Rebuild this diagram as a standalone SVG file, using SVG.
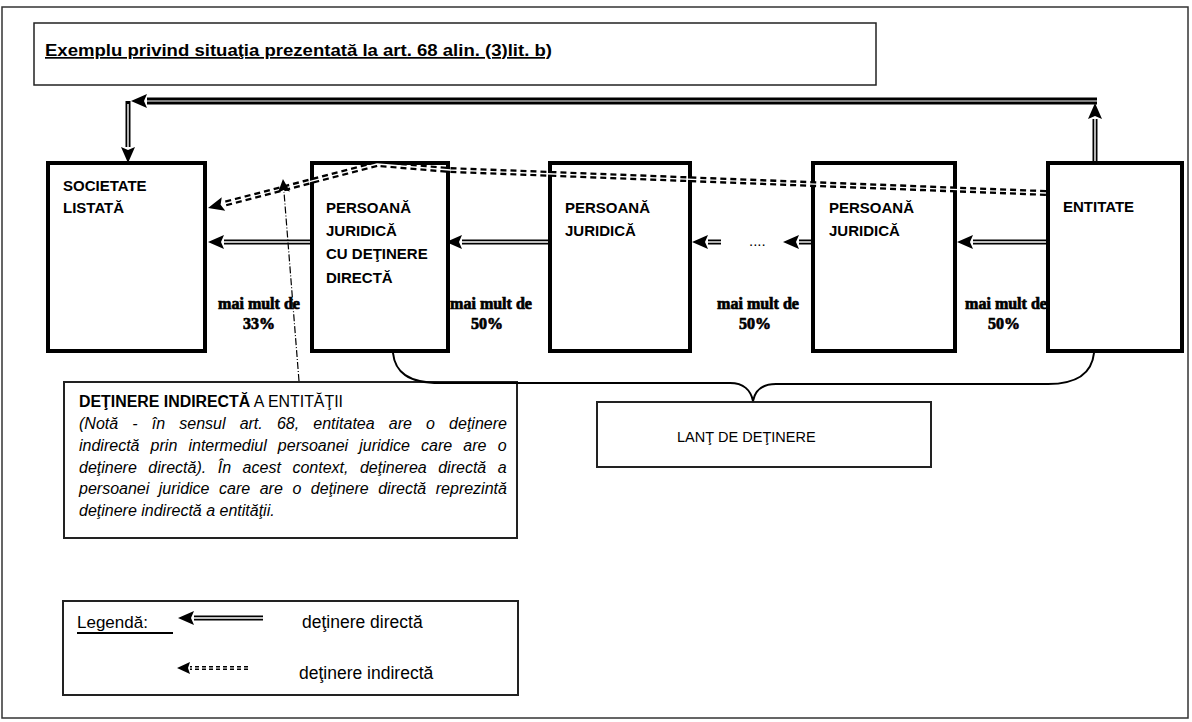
<svg xmlns="http://www.w3.org/2000/svg" width="1192" height="722" viewBox="0 0 1192 722">
<style>
.sans{font-family:"Liberation Sans",Arial,sans-serif;fill:#000}
.box{fill:#fff;stroke:#000;stroke-width:4}
.thin{fill:#fff;stroke:#222;stroke-width:1.5}
.lbl{font-family:"Liberation Serif","Times New Roman",serif;font-weight:bold;font-size:16px;fill:#000;stroke:#000;stroke-width:0.7;text-anchor:middle}
.nl{font-family:"Liberation Sans",Arial,sans-serif;font-weight:bold;font-size:15px;fill:#000}
.dbl{fill:none;stroke:#000;stroke-width:5}
.dblw{fill:none;stroke:#fff;stroke-width:1.4}
.dash{fill:none;stroke:#000;stroke-width:6;stroke-dasharray:6 4}
.dashw{fill:none;stroke:#fff;stroke-width:1.3}
.note{font-family:"Liberation Sans",Arial,sans-serif;font-size:16px;font-style:italic;fill:#000}
</style>
<defs>
<marker id="ah" markerUnits="userSpaceOnUse" markerWidth="18" markerHeight="16" refX="0" refY="7" orient="auto" overflow="visible">
<path d="M0,0 L16,7 L0,14 L3,7 z" fill="#000"/>
</marker>
<marker id="ahs" markerUnits="userSpaceOnUse" markerWidth="14" markerHeight="14" refX="0" refY="6" orient="auto" overflow="visible">
<path d="M0,0 L13,6 L0,12 L2,6 z" fill="#000"/>
</marker>
</defs>
<rect x="0" y="0" width="1192" height="722" fill="#fff"/>
<rect x="2" y="7" width="1186" height="711" fill="none" stroke="#333" stroke-width="1.5"/>

<g id="title">
<rect x="34" y="23" width="842" height="62" class="thin"/>
<text x="45" y="56" class="sans" font-size="17" font-weight="bold" text-decoration="underline" textLength="507" lengthAdjust="spacingAndGlyphs">Exemplu privind situaţia prezentată la art. 68 alin. (3)lit. b)</text>
</g>

<g id="labels">
<text class="lbl" x="259" y="309">mai mult de</text>
<text class="lbl" x="259" y="329">33%</text>
<text class="lbl" x="491" y="309">mai mult de</text>
<text class="lbl" x="487" y="329">50%</text>
<text class="lbl" x="758" y="309">mai mult de</text>
<text class="lbl" x="755" y="329">50%</text>
<text class="lbl" x="1006" y="309">mai mult de</text>
<text class="lbl" x="1004" y="329">50%</text>
</g>

<g id="societate-listata">
<rect x="48" y="163" width="157" height="188" class="box"/>
<text class="nl" x="63" y="191">SOCIETATE</text>
<text class="nl" x="63" y="213">LISTATĂ</text>
</g>
<g id="pj-detinere-directa">
<rect x="312" y="163" width="136" height="188" class="box"/>
<text class="nl" x="326" y="213">PERSOANĂ</text>
<text class="nl" x="326" y="236">JURIDICĂ</text>
<text class="nl" x="326" y="259">CU DEŢINERE</text>
<text class="nl" x="326" y="283">DIRECTĂ</text>
</g>
<g id="pj-2">
<rect x="550" y="163" width="140" height="188" class="box"/>
<text class="nl" x="565" y="213">PERSOANĂ</text>
<text class="nl" x="565" y="236">JURIDICĂ</text>
</g>
<g id="pj-3">
<rect x="813" y="163" width="142" height="188" class="box"/>
<text class="nl" x="829" y="213">PERSOANĂ</text>
<text class="nl" x="829" y="236">JURIDICĂ</text>
</g>
<g id="entitate">
<rect x="1048" y="163" width="134" height="188" class="box"/>
<text class="nl" x="1063" y="212">ENTITATE</text>
</g>

<g id="nota">
<rect x="64" y="382" width="453" height="156" fill="#fff" stroke="#222" stroke-width="2"/>
<text class="sans" x="79" y="407" font-size="16" textLength="264" lengthAdjust="spacingAndGlyphs"><tspan font-weight="bold">DEŢINERE INDIRECTĂ</tspan> A ENTITĂŢII</text>
<text class="note" x="79" y="429" word-spacing="9.7">(Notă - în sensul art. 68, entitatea are o deţinere</text>
<text class="note" x="79" y="451" word-spacing="6.7">indirectă prin intermediul persoanei juridice care are o</text>
<text class="note" x="79" y="473" word-spacing="7.1">deţinere directă). În acest context, deţinerea directă a</text>
<text class="note" x="79" y="494" word-spacing="5.1">persoanei juridice care are o deţinere directă reprezintă</text>
<text class="note" x="79" y="516">deţinere indirectă a entităţii.</text>
</g>

<g id="lant">
<rect x="597" y="402" width="334" height="65" fill="#fff" stroke="#222" stroke-width="2"/>
<text class="sans" x="677" y="442" font-size="14.5">LANŢ DE DEŢINERE</text>
</g>

<g id="connectors">
<path d="M1095,161 L1095,119" class="dbl" marker-end="url(#ah)"/>
<path d="M1095,161 L1095,119" class="dblw"/>
<path d="M1097,101 L147,101" fill="none" stroke="#000" stroke-width="7" marker-end="url(#ah)"/>
<path d="M1097,101 L147,101" fill="none" stroke="#fff" stroke-width="1"/>
<path d="M128,101 L128,147" class="dbl" marker-end="url(#ah)"/>
<path d="M128,104 L128,147" class="dblw"/>

<path d="M310,242 L224,242" class="dbl" marker-end="url(#ah)"/>
<path d="M310,242 L224,242" class="dblw"/>
<path d="M548,242 L462,242" class="dbl" marker-end="url(#ah)"/>
<path d="M548,242 L462,242" class="dblw"/>
<path d="M721,242 L708,242" class="dbl" marker-end="url(#ah)"/>
<path d="M721,242 L708,242" class="dblw"/>
<path d="M811,242 L799,242" class="dbl" marker-end="url(#ah)"/>
<path d="M811,242 L799,242" class="dblw"/>
<path d="M1046,242 L973,242" class="dbl" marker-end="url(#ah)"/>
<path d="M1046,242 L973,242" class="dblw"/>
<text class="sans" x="749" y="246" font-size="15">....</text>

<path d="M1046,193 L450,170 L377,164 L223.5,204" class="dash" marker-end="url(#ah)"/>
<path d="M1046,193 L450,170 L377,164 L223.5,204" class="dashw"/>

<path d="M299,381 L284,192" fill="none" stroke="#000" stroke-width="1.2" stroke-dasharray="7 2 1 2" marker-end="url(#ahs)"/>

<path d="M393,353 C395,372 408,383 440,383 L730,383 C744,383 751,391 753,401 C755,391 762,384 776,384 L1048,384 C1078,384 1092,372 1094,353" fill="none" stroke="#000" stroke-width="2"/>
</g>

<g id="legenda">
<rect x="63" y="601" width="455" height="94" fill="#fff" stroke="#222" stroke-width="2"/>
<text class="sans" x="77" y="628" font-size="17">Legendă:</text>
<line x1="77" y1="633" x2="173" y2="633" stroke="#000" stroke-width="2"/>
<path d="M263,618 L194,618" class="dbl" marker-end="url(#ah)"/>
<path d="M263,618 L194,618" class="dblw"/>
<path d="M248,668 L190,668" fill="none" stroke="#000" stroke-width="4" stroke-dasharray="4 3" marker-end="url(#ahs)"/>
<path d="M248,668 L190,668" fill="none" stroke="#fff" stroke-width="1.2"/>
<text class="sans" x="302" y="628" font-size="17.5">deţinere directă</text>
<text class="sans" x="299" y="679" font-size="17.5">deţinere indirectă</text>
</g>
</svg>
